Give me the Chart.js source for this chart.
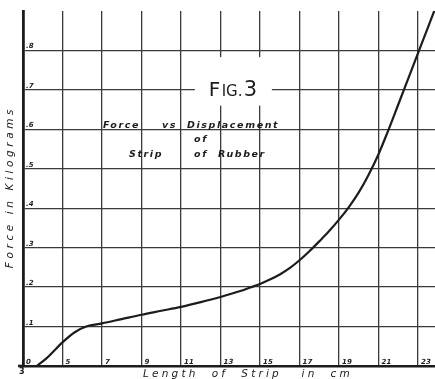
<!DOCTYPE html>
<html>
<head>
<meta charset="utf-8">
<script src="https://cdn.jsdelivr.net/npm/chart.js@4.4.1/dist/chart.umd.min.js"></script>
<style>
  html, body { margin: 0; padding: 0; background: #fff; }
  #wrap { width: 435px; height: 379px; }
</style>
</head>
<body>
<div id="wrap"><canvas id="fig3"></canvas></div>
<script>
// length of strip (cm) and force (kg)
const lengthCm = [3.7, 4.2, 5, 5.6, 6.2, 7, 8, 9, 10, 11, 12, 13, 14, 14.5, 15, 15.5, 16, 16.5, 17, 17.5, 18, 18.5, 19, 19.5, 20, 20.5, 21, 21.5, 22, 22.5, 23, 23.5, 23.86];
const forceKg = [0, 0.02, 0.06, 0.085, 0.1, 0.108, 0.119, 0.13, 0.14, 0.15, 0.162, 0.175, 0.19, 0.199, 0.208, 0.219, 0.232, 0.248, 0.268, 0.291, 0.316, 0.342, 0.371, 0.403, 0.44, 0.485, 0.537, 0.598, 0.663, 0.728, 0.793, 0.858, 0.905];

// tick values and their labels
const xTicks = [3, 5, 7, 9, 11, 13, 15, 17, 19, 21, 23];
const xTickLabels = ["3", "5", "7", "9", "11", "13", "15", "17", "19", "21", "23"];
const yTicks = [0, 0.1, 0.2, 0.3, 0.4, 0.5, 0.6, 0.7, 0.8];
const yTickLabels = ["0", ".1", ".2", ".3", ".4", ".5", ".6", ".7", ".8"];

const ink = "#1c1c1c";
const handFont = "'DejaVu Sans', sans-serif";

// draws labels inside the plot like on the drawing, plus titles and notes
const handLettering = {
  id: "handLettering",
  beforeDraw(chart) {
    const c = chart.ctx;
    c.save();
    c.fillStyle = "#fff";
    c.fillRect(0, 0, chart.width, chart.height);
    c.restore();
  },
  beforeDatasetsDraw(chart) {
    const { ctx: c, scales: { x, y } } = chart;
    // blank patch behind "Fig.3"
    c.save();
    c.fillStyle = "#fff";
    const bx0 = x.getPixelForValue(11.7), bx1 = x.getPixelForValue(15.6);
    const by0 = y.getPixelForValue(0.783), by1 = y.getPixelForValue(0.66);
    c.fillRect(bx0, by0, bx1 - bx0, by1 - by0);
    // axis line runs a little past the origin
    c.fillStyle = ink;
    c.fillRect(x.left - 5, y.bottom - 1.3, 6, 2.6);
    c.restore();
  },
  afterDatasetsDraw(chart) {
    const { ctx: c, scales: { x, y } } = chart;
    c.save();
    c.fillStyle = ink;
    c.textBaseline = "alphabetic";

    // y tick labels, just right of the axis and above each line
    c.font = "italic bold 7px " + handFont;
    c.textAlign = "left";
    yTicks.forEach((v, i) => {
      c.fillText(yTickLabels[i], x.left + 3, y.getPixelForValue(v) - 2);
    });
    // x tick labels, just above the axis, right of each line
    xTicks.forEach((v, i) => {
      if (i === 0) return;
      c.fillText(xTickLabels[i], x.getPixelForValue(v) + 3, y.bottom - 2);
    });
    c.font = "bold 8px " + handFont;
    c.fillText(xTickLabels[0], x.left - 4, y.bottom + 8);

    // axis titles
    c.font = "italic 10.5px " + handFont;
    c.letterSpacing = "3.2px";
    c.textAlign = "center";
    c.fillText("Length  of  Strip   in  cm", 248, y.bottom + 11);
    c.save();
    c.translate(13, 187);
    c.rotate(-Math.PI / 2);
    c.letterSpacing = "3.6px";
    c.fillText("Force in Kilograms", 0, 0);
    c.restore();

    // figure number
    c.letterSpacing = "0px";
    c.textAlign = "left";
    c.font = "20px " + handFont;
    const fx = x.getPixelForValue(12.4), fy = y.getPixelForValue(0.685);
    c.fillText("F", fx, fy);
    c.font = "15px " + handFont;
    c.fillText("IG.", fx + 13, fy);
    c.font = "21px " + handFont;
    c.fillText("3", fx + 35, fy);

    // caption
    c.font = "italic bold 9.5px " + handFont;
    c.letterSpacing = "1.6px";
    const capY = y.getPixelForValue(0.603);
    c.fillText("Force", 103, capY);
    c.fillText("vs", 162, capY);
    c.fillText("Displacement", 187, capY);
    c.fillText("of", 194, y.getPixelForValue(0.567));
    const lowY = y.getPixelForValue(0.53);
    c.fillText("Strip", 129, lowY);
    c.fillText("of", 194, lowY);
    c.fillText("Rubber", 218, lowY);
    c.restore();
  }
};

const ctx = document.getElementById("fig3").getContext("2d");
new Chart(ctx, {
  type: "scatter",
  data: {
    datasets: [
      {
        label: "Force vs Displacement of Strip of Rubber",
        data: lengthCm.map((v, i) => ({ x: v, y: forceKg[i] })),
        showLine: true,
        borderColor: ink,
        borderWidth: 2.2,
        pointRadius: 0,
        cubicInterpolationMode: "monotone",
        fill: false,
      },
    ],
  },
  options: {
    responsive: true,
    maintainAspectRatio: false,
    animation: false,
    layout: { padding: { left: 23, right: 0, top: 11, bottom: 13 } },
    plugins: {
      legend: { display: false },
      tooltip: { enabled: false },
    },
    scales: {
      x: {
        type: "linear",
        min: 3,
        max: 23.86,
        afterBuildTicks: (scale) => {
          scale.ticks = xTicks.map((v) => ({ value: v }));
        },
        ticks: { display: false },
        grid: { color: "#3a3a3a", lineWidth: 1.3, drawTicks: false },
        border: { display: true, color: ink, width: 2.6 },
      },
      y: {
        type: "linear",
        min: 0,
        max: 0.9,
        afterBuildTicks: (scale) => {
          scale.ticks = yTicks.map((v) => ({ value: v }));
        },
        ticks: { display: false },
        grid: { color: "#3a3a3a", lineWidth: 1.3, drawTicks: false },
        border: { display: true, color: ink, width: 2.8 },
      },
    },
  },
  plugins: [handLettering],
});
</script>
</body>
</html>
